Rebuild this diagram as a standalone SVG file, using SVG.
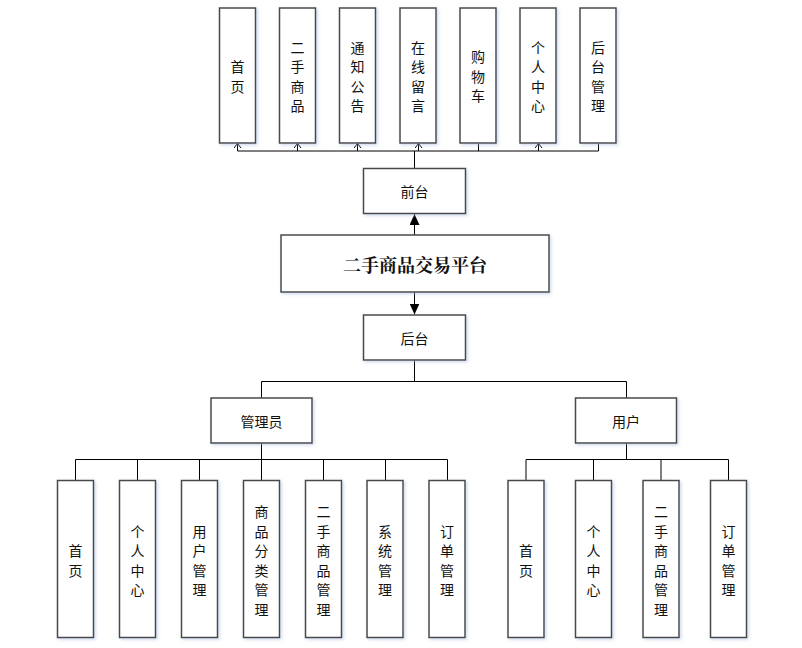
<svg xmlns="http://www.w3.org/2000/svg" width="802" height="648" viewBox="0 0 802 648">
<defs>
<style>
.box{fill:#fff;stroke:#4a4a4a;stroke-width:1.5}
.t{font-family:"Noto Sans CJK SC","Microsoft YaHei",sans-serif;font-size:14px;fill:#111;text-anchor:middle;dominant-baseline:central}
.title{font-family:"Noto Serif CJK SC","Noto Sans CJK SC",serif;font-size:18px;font-weight:bold;fill:#111;text-anchor:middle;dominant-baseline:central}
.ln{fill:none;stroke:#000;stroke-width:1}
</style>
<filter id="sh" x="-20%" y="-20%" width="140%" height="140%">
<feDropShadow dx="1.5" dy="1.5" stdDeviation="1.5" flood-color="#9fb6d8" flood-opacity="0.5"/>
</filter>
<marker id="open" viewBox="0 0 5 8" refX="4.5" refY="4" markerWidth="5" markerHeight="8" markerUnits="userSpaceOnUse" orient="auto">
<path d="M0,0.5 L4.5,4 L0,7.5" fill="none" stroke="#000" stroke-width="1"/>
</marker>
<marker id="fill" viewBox="0 0 11 10" refX="11" refY="5" markerWidth="11" markerHeight="10" markerUnits="userSpaceOnUse" orient="auto">
<path d="M0,0 L11,5 L0,10 Z" fill="#000"/>
</marker>
</defs>
<rect width="802" height="648" fill="#fff"/>

<g id="connectors">
<path class="ln" d="M237.5,151 H598.5"/>
<path class="ln" d="M414.5,168 V151"/>
<path class="ln" d="M237.5,151 V143.5" marker-end="url(#open)"/>
<path class="ln" d="M297.5,151 V143.5" marker-end="url(#open)"/>
<path class="ln" d="M357.5,151 V143.5" marker-end="url(#open)"/>
<path class="ln" d="M418.5,151 V143.5" marker-end="url(#open)"/>
<path class="ln" d="M478.5,151 V143.5"/>
<path class="ln" d="M538.5,151 V143.5" marker-end="url(#open)"/>
<path class="ln" d="M598.5,151 V143.5"/>
<path class="ln" d="M414.5,235 V214" marker-end="url(#fill)" stroke-width="1.5"/>
<path class="ln" d="M414.5,292 V314.5" marker-end="url(#fill)" stroke-width="1.5"/>
<path class="ln" d="M414.5,360 V381.5 M261.5,381.5 H626.5 M261.5,381.5 V398 M626.5,381.5 V398"/>
<path class="ln" d="M261.5,443 V459.5 M75.5,459.5 H447.5"/>
<path class="ln" d="M75.5,459.5 V480 M137.5,459.5 V480 M199.5,459.5 V480 M261.5,459.5 V480 M323.5,459.5 V480 M385.5,459.5 V480 M447.5,459.5 V480"/>
<path class="ln" d="M626.5,443 V459.5 M526,459.5 H728.5"/>
<path class="ln" d="M526,459.5 V480 M593.5,459.5 V480 M661,459.5 V480 M728.5,459.5 V480"/>
</g>

<g id="f1"><rect class="box" filter="url(#sh)" x="219.5" y="8" width="36" height="135"/><text class="t"><tspan x="237.5" y="65.5">首</tspan><tspan x="237.5" y="85.5">页</tspan></text></g>
<g id="f2"><rect class="box" filter="url(#sh)" x="279.5" y="8" width="36" height="135"/><text class="t"><tspan x="297.5" y="46.5">二</tspan><tspan x="297.5" y="66">手</tspan><tspan x="297.5" y="85.5">商</tspan><tspan x="297.5" y="105">品</tspan></text></g>
<g id="f3"><rect class="box" filter="url(#sh)" x="339.5" y="8" width="36" height="135"/><text class="t"><tspan x="357.5" y="46.5">通</tspan><tspan x="357.5" y="66">知</tspan><tspan x="357.5" y="85.5">公</tspan><tspan x="357.5" y="105">告</tspan></text></g>
<g id="f4"><rect class="box" filter="url(#sh)" x="400" y="8" width="36" height="135"/><text class="t"><tspan x="418" y="46.5">在</tspan><tspan x="418" y="66">线</tspan><tspan x="418" y="85.5">留</tspan><tspan x="418" y="105">言</tspan></text></g>
<g id="f5"><rect class="box" filter="url(#sh)" x="460" y="8" width="36" height="135"/><text class="t"><tspan x="478" y="56">购</tspan><tspan x="478" y="75.5">物</tspan><tspan x="478" y="95">车</tspan></text></g>
<g id="f6"><rect class="box" filter="url(#sh)" x="520" y="8" width="36" height="135"/><text class="t"><tspan x="538" y="46.5">个</tspan><tspan x="538" y="66">人</tspan><tspan x="538" y="85.5">中</tspan><tspan x="538" y="105">心</tspan></text></g>
<g id="f7"><rect class="box" filter="url(#sh)" x="580" y="8" width="36" height="135"/><text class="t"><tspan x="598" y="46.5">后</tspan><tspan x="598" y="66">台</tspan><tspan x="598" y="85.5">管</tspan><tspan x="598" y="105">理</tspan></text></g>

<g id="qiantai"><rect class="box" filter="url(#sh)" x="363.5" y="168.5" width="102" height="45"/><text class="t" x="414.5" y="191">前台</text></g>
<g id="main"><rect class="box" filter="url(#sh)" x="281" y="235" width="268" height="57"/><text class="title" x="415" y="263.5">二手商品交易平台</text></g>
<g id="houtai"><rect class="box" filter="url(#sh)" x="363.5" y="315" width="102" height="45"/><text class="t" x="414.5" y="338">后台</text></g>

<g id="admin"><rect class="box" filter="url(#sh)" x="211" y="398" width="101" height="45"/><text class="t" x="261.5" y="421">管理员</text></g>
<g id="user"><rect class="box" filter="url(#sh)" x="575.5" y="398" width="101" height="45"/><text class="t" x="626" y="421">用户</text></g>

<g id="a1"><rect class="box" filter="url(#sh)" x="57.5" y="480.5" width="36" height="157"/><text class="t"><tspan x="75.5" y="549.5">首</tspan><tspan x="75.5" y="569.5">页</tspan></text></g>
<g id="a2"><rect class="box" filter="url(#sh)" x="119.5" y="480.5" width="36" height="157"/><text class="t"><tspan x="137.5" y="530.5">个</tspan><tspan x="137.5" y="550">人</tspan><tspan x="137.5" y="569.5">中</tspan><tspan x="137.5" y="589">心</tspan></text></g>
<g id="a3"><rect class="box" filter="url(#sh)" x="181.5" y="480.5" width="36" height="157"/><text class="t"><tspan x="199.5" y="530.5">用</tspan><tspan x="199.5" y="550">户</tspan><tspan x="199.5" y="569.5">管</tspan><tspan x="199.5" y="589">理</tspan></text></g>
<g id="a4"><rect class="box" filter="url(#sh)" x="243.5" y="480.5" width="36" height="157"/><text class="t"><tspan x="261.5" y="511">商</tspan><tspan x="261.5" y="530.5">品</tspan><tspan x="261.5" y="550">分</tspan><tspan x="261.5" y="569.5">类</tspan><tspan x="261.5" y="589">管</tspan><tspan x="261.5" y="608.5">理</tspan></text></g>
<g id="a5"><rect class="box" filter="url(#sh)" x="305.5" y="480.5" width="36" height="157"/><text class="t"><tspan x="323.5" y="511">二</tspan><tspan x="323.5" y="530.5">手</tspan><tspan x="323.5" y="550">商</tspan><tspan x="323.5" y="569.5">品</tspan><tspan x="323.5" y="589">管</tspan><tspan x="323.5" y="608.5">理</tspan></text></g>
<g id="a6"><rect class="box" filter="url(#sh)" x="367" y="480.5" width="36" height="157"/><text class="t"><tspan x="385" y="530.5">系</tspan><tspan x="385" y="550">统</tspan><tspan x="385" y="569.5">管</tspan><tspan x="385" y="589">理</tspan></text></g>
<g id="a7"><rect class="box" filter="url(#sh)" x="429" y="480.5" width="36" height="157"/><text class="t"><tspan x="447" y="530.5">订</tspan><tspan x="447" y="550">单</tspan><tspan x="447" y="569.5">管</tspan><tspan x="447" y="589">理</tspan></text></g>

<g id="u1"><rect class="box" filter="url(#sh)" x="508" y="480.5" width="36" height="157"/><text class="t"><tspan x="526" y="549.5">首</tspan><tspan x="526" y="569.5">页</tspan></text></g>
<g id="u2"><rect class="box" filter="url(#sh)" x="575.5" y="480.5" width="36" height="157"/><text class="t"><tspan x="593.5" y="530.5">个</tspan><tspan x="593.5" y="550">人</tspan><tspan x="593.5" y="569.5">中</tspan><tspan x="593.5" y="589">心</tspan></text></g>
<g id="u3"><rect class="box" filter="url(#sh)" x="643" y="480.5" width="36" height="157"/><text class="t"><tspan x="661" y="511">二</tspan><tspan x="661" y="530.5">手</tspan><tspan x="661" y="550">商</tspan><tspan x="661" y="569.5">品</tspan><tspan x="661" y="589">管</tspan><tspan x="661" y="608.5">理</tspan></text></g>
<g id="u4"><rect class="box" filter="url(#sh)" x="710.5" y="480.5" width="36" height="157"/><text class="t"><tspan x="728.5" y="530.5">订</tspan><tspan x="728.5" y="550">单</tspan><tspan x="728.5" y="569.5">管</tspan><tspan x="728.5" y="589">理</tspan></text></g>
</svg>
